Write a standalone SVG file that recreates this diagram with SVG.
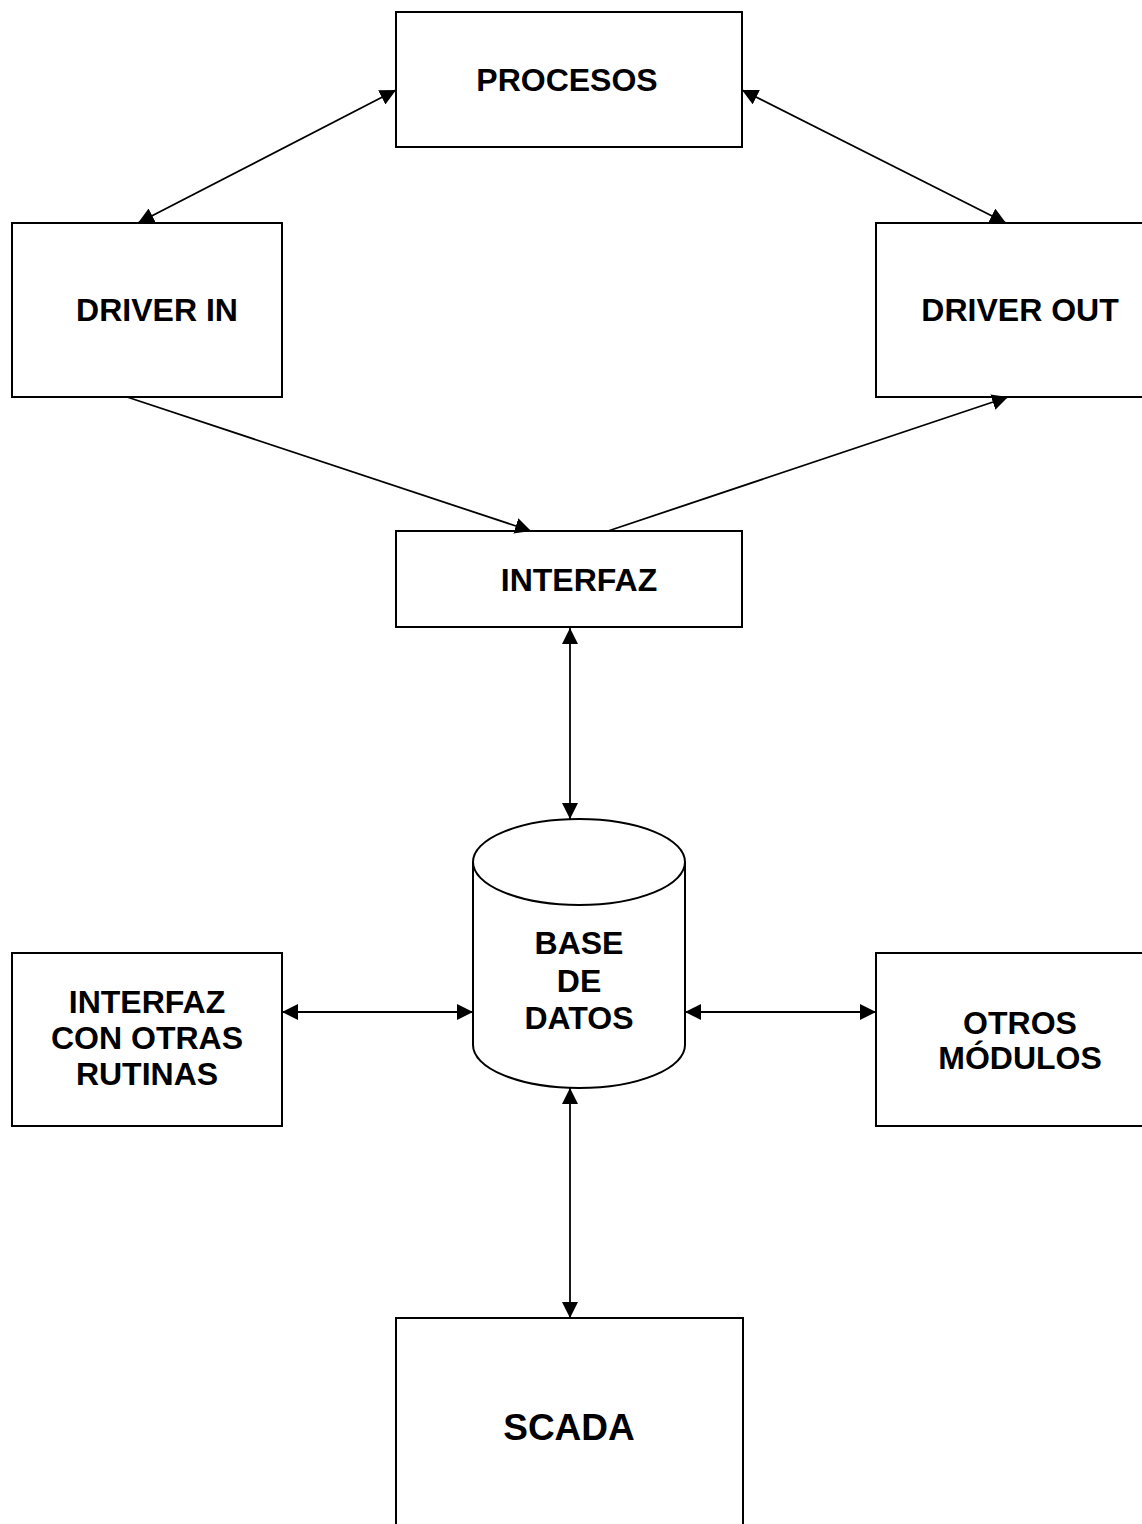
<svg xmlns="http://www.w3.org/2000/svg" width="1142" height="1524" viewBox="0 0 1142 1524">
  <style>
    .box { fill: #ffffff; stroke: #000000; stroke-width: 2; }
    .lbl { font-family: "Liberation Sans", Arial, sans-serif; font-weight: bold; font-size: 32px; fill: #000000; text-anchor: middle; }
    .big { font-size: 37px; }
    .link { fill: none; stroke: #000000; stroke-width: 1.8; }
  </style>
  <defs>
    <marker id="arrow" markerUnits="userSpaceOnUse" markerWidth="16" markerHeight="16" viewBox="0 0 16 16" refX="16" refY="8" orient="auto-start-reverse">
      <path d="M0,0 L16,8 L0,16 Z" fill="#000000"/>
    </marker>
  </defs>
  <rect width="1142" height="1524" fill="#ffffff"/>

  <g id="procesos">
    <rect class="box" x="396" y="12" width="346" height="135"/>
    <text class="lbl" x="567" y="91">PROCESOS</text>
  </g>

  <g id="driver-in">
    <rect class="box" x="12" y="223" width="270" height="174"/>
    <text class="lbl" x="157" y="321">DRIVER IN</text>
  </g>

  <g id="driver-out">
    <rect class="box" x="876" y="223" width="290" height="174"/>
    <text class="lbl" x="1020" y="321">DRIVER OUT</text>
  </g>

  <g id="interfaz">
    <rect class="box" x="396" y="531" width="346" height="96"/>
    <text class="lbl" x="579" y="591">INTERFAZ</text>
  </g>

  <g id="base-de-datos">
    <path class="box" d="M473,862 A106,43 0 0 1 685,862 L685,1045 A106,43 0 0 1 473,1045 Z"/>
    <path class="box" fill="none" d="M473,862 A106,43 0 0 0 685,862"/>
    <text class="lbl" x="579" y="954">BASE</text>
    <text class="lbl" x="579" y="992">DE</text>
    <text class="lbl" x="579" y="1029">DATOS</text>
  </g>

  <g id="interfaz-otras-rutinas">
    <rect class="box" x="12" y="953" width="270" height="173"/>
    <text class="lbl" x="147" y="1013">INTERFAZ</text>
    <text class="lbl" x="147" y="1049">CON OTRAS</text>
    <text class="lbl" x="147" y="1085">RUTINAS</text>
  </g>

  <g id="otros-modulos">
    <rect class="box" x="876" y="953" width="290" height="173"/>
    <text class="lbl" x="1020" y="1034">OTROS</text>
    <text class="lbl" x="1020" y="1069">MÓDULOS</text>
  </g>

  <g id="scada">
    <rect class="box" x="396" y="1318" width="347" height="230"/>
    <text class="lbl big" x="569" y="1440">SCADA</text>
  </g>

  <g id="connectors">
    <line class="link" x1="396" y1="90" x2="138" y2="223" marker-start="url(#arrow)" marker-end="url(#arrow)"/>
    <line class="link" x1="742" y1="90" x2="1006" y2="223" marker-start="url(#arrow)" marker-end="url(#arrow)"/>
    <line class="link" x1="127" y1="397" x2="531" y2="531" marker-end="url(#arrow)"/>
    <line class="link" x1="608" y1="531" x2="1008" y2="397" marker-end="url(#arrow)"/>
    <line class="link" x1="570" y1="628" x2="570" y2="819" marker-start="url(#arrow)" marker-end="url(#arrow)"/>
    <line class="link" x1="282" y1="1012" x2="473" y2="1012" marker-start="url(#arrow)" marker-end="url(#arrow)"/>
    <line class="link" x1="685" y1="1012" x2="876" y2="1012" marker-start="url(#arrow)" marker-end="url(#arrow)"/>
    <line class="link" x1="570" y1="1088" x2="570" y2="1318" marker-start="url(#arrow)" marker-end="url(#arrow)"/>
  </g>
</svg>
